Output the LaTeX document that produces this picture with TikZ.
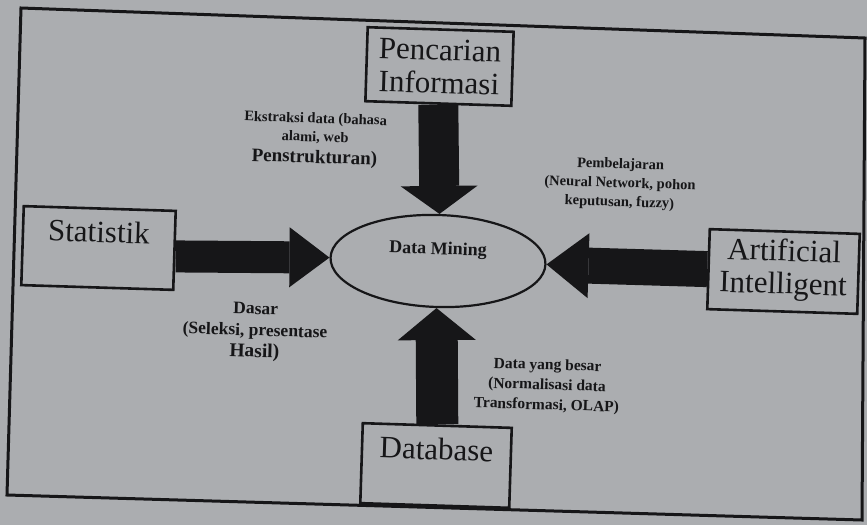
\documentclass[tikz,border=0pt]{standalone}
\usepackage{fontspec}
\setmainfont{Liberation Serif}
\usetikzlibrary{arrows.meta,shapes.geometric}
\definecolor{paper}{RGB}{171,173,176}
\definecolor{ink}{RGB}{22,22,24}

\begin{document}
\begin{tikzpicture}[x=1pt,y=-1pt,
  every node/.append style={rotate=-1.8, text=ink},
  box/.style={draw=ink, line width=2.6pt, inner sep=0pt, align=center,
    font=\fontsize{31}{33}\selectfont},
  lbl/.style={inner sep=0pt, align=center},
  fat/.style={draw=ink, line width=#1},
  frame/.style={draw=ink, line width=3pt, line join=miter}
]
% page and outer frame
\fill[paper] (0,0) rectangle (867,525);
\useasboundingbox (0,0) rectangle (867,525);
\draw[frame] (21,8) -- (865,38) -- (862,520) -- (7,495) -- cycle;

% central ellipse
\node[draw=ink, ellipse, line width=2.2pt, minimum width=215, minimum height=92,
  inner sep=0pt] (dm) at (438,261) {};
\node[lbl, font=\bfseries\fontsize{18}{20}\selectfont] (dmt) at (438,250) {Data Mining};

% surrounding boxes (text sits in the upper part of some boxes)
\node[box, minimum width=146, minimum height=74] (pi) at (439.5,66.5) {Pencarian\\Informasi};
\node[box, minimum width=152, minimum height=79] (st) at (98.5,248) {Statistik\\ \mbox{}};
\node[box, minimum width=150, minimum height=80] (ai) at (783.5,271.5) {Artificial\\Intelligent\\[-23pt]\mbox{}};
\node[box, minimum width=149, minimum height=80] (db) at (436,465.5) {Database\\ \mbox{}};

% thick arrows into the ellipse
\draw[fat=40pt, -{Triangle[width=77pt,length=28pt,line width=0pt]}] (pi.south) -- (dm.north);
\draw[fat=32pt, -{Triangle[width=60pt,length=40pt,line width=0pt]}] ([yshift=-6pt]st.east) -- (dm.west);
\draw[fat=36pt, -{Triangle[width=65pt,length=42pt,line width=0pt]}] (ai.west) -- (dm.east);
\draw[fat=42pt, -{Triangle[width=78pt,length=32pt,line width=0pt]}] (db.north) -- (dm.south);

% arrow captions
\node[lbl, font=\bfseries\fontsize{14.5}{18.5}\selectfont] (cpi) at (315,140)
  {Ekstraksi data (bahasa\\ alami, web\\[3pt] {\fontsize{19}{20}\selectfont Penstrukturan)}};
\node[lbl, font=\bfseries\fontsize{14.5}{19}\selectfont] (cai) at (620,184)
  {Pembelajaran\\ (Neural Network, pohon\\ keputusan, fuzzy)};
\node[lbl, font=\bfseries\fontsize{17.5}{21.5}\selectfont] (cst) at (255,332)
  {Dasar\\ (Seleksi, presentase\\ {\fontsize{19.5}{21}\selectfont Hasil)}};
\node[lbl, font=\bfseries\fontsize{15.5}{20}\selectfont] (cdb) at (547,386)
  {Data yang besar\\ (Normalisasi data\\ Transformasi, OLAP)};
\end{tikzpicture}
\end{document}
